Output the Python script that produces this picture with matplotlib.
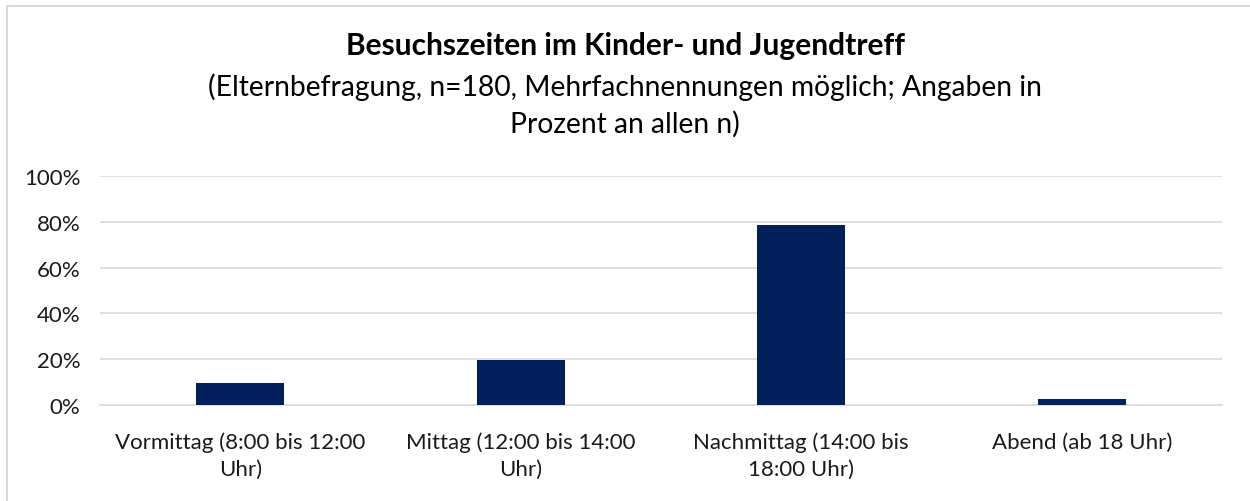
import matplotlib
matplotlib.use('Agg')
import matplotlib.pyplot as plt
from matplotlib.ticker import PercentFormatter
from matplotlib.patches import Rectangle

plt.rcParams['font.family'] = ['Lato', 'DejaVu Sans']

# ── Data ──────────────────────────────────────────────────────
categories = ['Vormittag (8:00 bis 12:00\nUhr)',
              'Mittag (12:00 bis 14:00\nUhr)',
              'Nachmittag (14:00 bis\n18:00 Uhr)',
              'Abend (ab 18 Uhr)']
values = [9.6, 19.7, 78.4, 2.6]
yticks = [0, 20, 40, 60, 80, 100]

C_BAR = '#001F5B'
C_GRID = '#D9D9D9'

fig = plt.figure(figsize=(12.5, 5.02), dpi=100)
ax = fig.add_axes([100/1250, 1 - 406/502, 1122/1250, (406 - 177)/502])

x = range(len(categories))
ax.bar(x, values, width=0.314, color=C_BAR, zorder=3)
ax.set_xlim(-0.5, len(categories) - 0.5)
ax.set_ylim(0, 100)
ax.set_yticks(yticks)
ax.yaxis.set_major_formatter(PercentFormatter(decimals=0))
ax.set_xticks(list(x))
ax.set_xticklabels(categories, fontsize=16, color='#1A1A1A', linespacing=1.45)
ax.tick_params(axis='y', labelsize=16, colors='#1A1A1A', length=0, pad=14)
ax.tick_params(axis='x', length=0, pad=19)
ax.grid(axis='y', color=C_GRID, lw=1.2, zorder=0)
for s in ['top', 'right', 'left']:
    ax.spines[s].set_visible(False)
ax.spines['bottom'].set_color(C_GRID)
ax.spines['bottom'].set_linewidth(1.2)

# titles
fig.text(0.5, 1 - 46/502, 'Besuchszeiten im Kinder- und Jugendtreff',
         ha='center', va='center', fontsize=21.5, fontweight='bold', color='black')
fig.text(0.5, 1 - 106/502,
         '(Elternbefragung, n=180, Mehrfachnennungen möglich; Angaben in\nProzent an allen n)',
         ha='center', va='center', fontsize=20.3, color='black', linespacing=1.45)

# chart border
fig.patches.append(Rectangle((7/1250, -0.05), 1.1, 1 - 7/502 + 0.05, transform=fig.transFigure,
                             fill=False, edgecolor='#D9D9D9', lw=1.5))

fig.savefig('out.png', dpi=100, facecolor='white')
